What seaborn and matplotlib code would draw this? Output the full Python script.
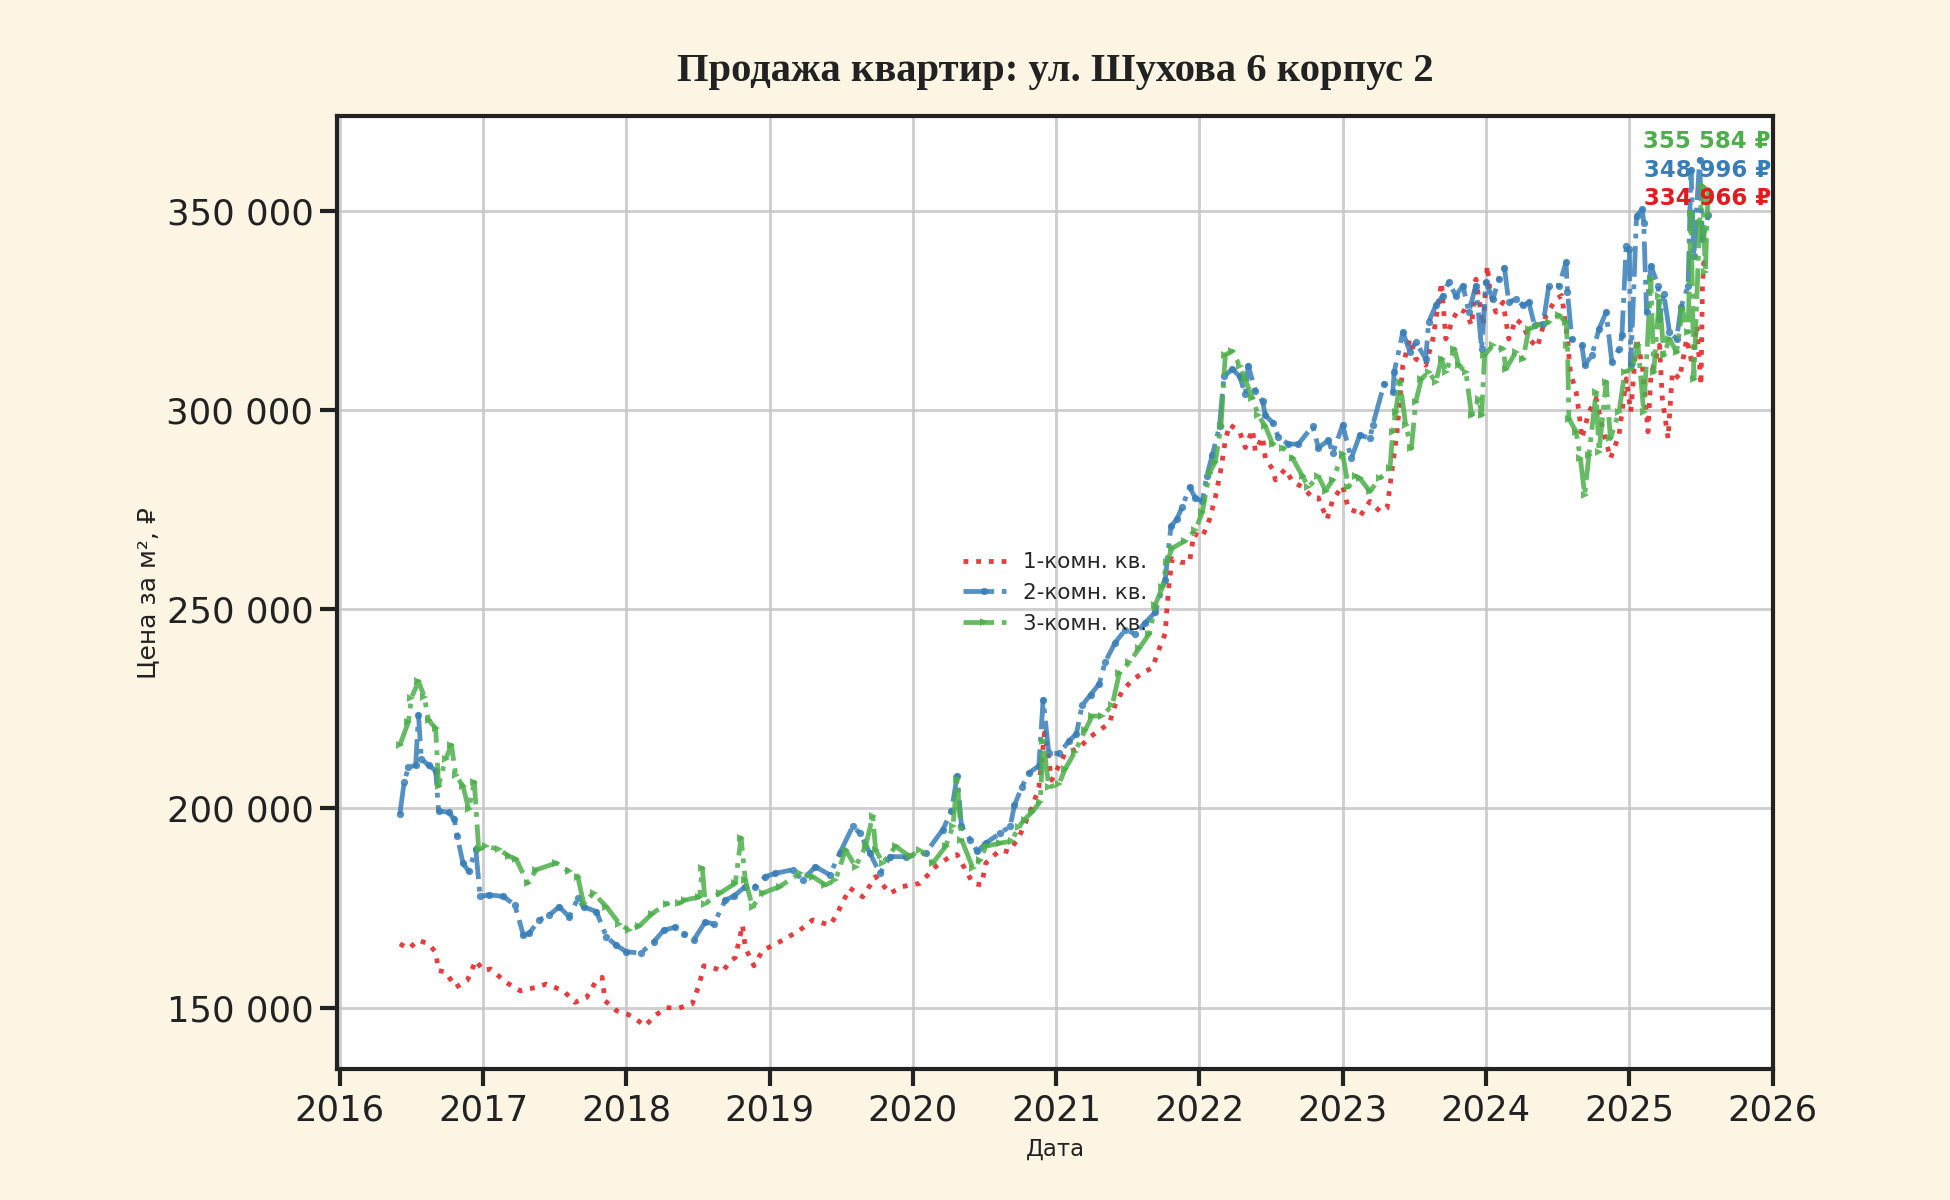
import pandas as pd
import matplotlib
matplotlib.use("Agg")
import matplotlib.pyplot as plt
import matplotlib.ticker as mticker
import seaborn as sns

# Readings from the chart: decimal year -> price per m2 (thousands of rubles)
one_room_t = [2016.42, 2016.48, 2016.55, 2016.62, 2016.67, 2016.69, 2016.74, 2016.81, 2016.89, 2016.95,
              2017.00, 2017.05, 2017.16, 2017.26, 2017.37, 2017.44, 2017.56, 2017.64, 2017.72, 2017.79,
              2017.83, 2017.85, 2017.93, 2018.01, 2018.07, 2018.13, 2018.20, 2018.28, 2018.36, 2018.46,
              2018.51, 2018.54, 2018.63, 2018.67, 2018.72, 2018.76, 2018.81, 2018.83, 2018.89, 2018.95,
              2019.09, 2019.21, 2019.30, 2019.42, 2019.46, 2019.56, 2019.65, 2019.74, 2019.84, 2019.93,
              2020.05, 2020.16, 2020.26, 2020.31, 2020.42, 2020.48, 2020.51, 2020.61, 2020.67, 2020.74,
              2020.83, 2020.88, 2020.92, 2020.97, 2021.06, 2021.16, 2021.23, 2021.30, 2021.37, 2021.41,
              2021.46, 2021.53, 2021.60, 2021.67, 2021.72, 2021.76, 2021.77, 2021.79, 2021.81, 2021.87,
              2021.93, 2021.96, 2022.02, 2022.07, 2022.11, 2022.15, 2022.18, 2022.21, 2022.28, 2022.32,
              2022.37, 2022.39, 2022.44, 2022.46, 2022.51, 2022.53, 2022.60, 2022.65, 2022.72, 2022.79,
              2022.83, 2022.89, 2022.93, 2023.00, 2023.04, 2023.10, 2023.12, 2023.19, 2023.26, 2023.31,
              2023.35, 2023.38, 2023.42, 2023.47, 2023.51, 2023.58, 2023.63, 2023.69, 2023.72, 2023.77,
              2023.81, 2023.86, 2023.90, 2023.93, 2023.98, 2024.01, 2024.03, 2024.07, 2024.12, 2024.16,
              2024.21, 2024.26, 2024.30, 2024.36, 2024.42, 2024.49, 2024.53, 2024.57, 2024.59, 2024.63,
              2024.65, 2024.67, 2024.72, 2024.77, 2024.81, 2024.87, 2024.93, 2024.98, 2025.01, 2025.05,
              2025.09, 2025.13, 2025.15, 2025.21, 2025.23, 2025.27, 2025.30, 2025.35, 2025.40, 2025.44,
              2025.47, 2025.50, 2025.51, 2025.52, 2025.54]
one_room_v = [166.0, 164.8, 166.9, 166.0, 163.9, 159.3, 158.9, 155.1, 156.8, 161.8,
              159.3, 159.7, 156.3, 154.2, 155.1, 155.9, 154.2, 151.3, 152.5, 156.8,
              157.6, 151.7, 149.2, 148.3, 147.0, 145.4, 148.0, 150.0, 149.8, 151.0,
              156.0, 160.5, 159.7, 159.0, 161.4, 162.6, 170.7, 165.0, 160.5, 164.3,
              166.9, 169.4, 172.0, 170.7, 172.8, 180.0, 177.8, 182.9, 178.7, 180.4,
              181.2, 185.4, 187.9, 188.4, 181.2, 180.8, 186.3, 189.6, 189.1, 192.7,
              199.9, 205.3, 219.0, 207.1, 213.8, 215.2, 217.8, 219.6, 221.4, 225.9,
              229.5, 232.2, 234.0, 235.3, 240.3, 243.9, 249.3, 257.4, 262.7, 261.8,
              261.8, 269.0, 268.1, 272.6, 278.0, 285.2, 292.4, 296.4, 294.6, 290.6,
              295.1, 289.7, 293.3, 287.9, 285.2, 282.5, 285.2, 282.0, 280.7, 278.0,
              278.0, 272.6, 277.5, 281.0, 275.3, 274.4, 273.3, 277.1, 274.6, 275.4,
              286.3, 294.6, 311.3, 317.9, 312.9, 311.3, 317.9, 332.1, 317.9, 322.9,
              325.4, 324.6, 321.3, 332.9, 321.3, 336.3, 329.6, 324.6, 327.1, 317.9,
              322.9, 321.3, 317.9, 315.8, 323.8, 327.9, 328.8, 317.9, 309.6, 304.6,
              299.6, 292.9, 299.6, 302.9, 296.3, 287.9, 293.8, 307.9, 299.6, 317.9,
              311.3, 294.6, 308.8, 316.3, 302.9, 292.9, 309.6, 307.9, 317.9, 311.3,
              321.3, 306.3, 331.3, 337.1, 334.966]

two_room_t = [2016.42, 2016.45, 2016.48, 2016.53, 2016.55, 2016.57, 2016.62, 2016.67, 2016.69, 2016.76,
              2016.80, 2016.82, 2016.86, 2016.90, 2016.95, 2016.98, 2017.04, 2017.14, 2017.22, 2017.28,
              2017.32, 2017.39, 2017.46, 2017.53, 2017.60, 2017.66, 2017.70, 2017.79, 2017.86, 2017.93,
              2018.00, 2018.10, 2018.19, 2018.26, 2018.34, 2018.40, 2018.47, 2018.55, 2018.61, 2018.69,
              2018.75, 2018.83, 2018.90, 2018.97, 2019.04, 2019.16, 2019.23, 2019.32, 2019.42, 2019.49,
              2019.58, 2019.63, 2019.70, 2019.77, 2019.84, 2019.95, 2020.09, 2020.21, 2020.27, 2020.31,
              2020.34, 2020.40, 2020.45, 2020.51, 2020.61, 2020.68, 2020.71, 2020.76, 2020.81, 2020.88,
              2020.91, 2020.95, 2021.02, 2021.09, 2021.14, 2021.18, 2021.24, 2021.30, 2021.34, 2021.41,
              2021.48, 2021.55, 2021.62, 2021.69, 2021.76, 2021.80, 2021.84, 2021.88, 2021.93, 2021.97,
              2022.02, 2022.05, 2022.09, 2022.14, 2022.17, 2022.23, 2022.28, 2022.32, 2022.34, 2022.39,
              2022.44, 2022.46, 2022.51, 2022.55, 2022.62, 2022.69, 2022.79, 2022.83, 2022.90, 2022.93,
              2023.00, 2023.06, 2023.12, 2023.19, 2023.21, 2023.29, 2023.35, 2023.36, 2023.42, 2023.47,
              2023.51, 2023.58, 2023.60, 2023.65, 2023.70, 2023.74, 2023.79, 2023.84, 2023.88, 2023.93,
              2023.97, 2024.00, 2024.05, 2024.09, 2024.13, 2024.16, 2024.21, 2024.26, 2024.30, 2024.34,
              2024.40, 2024.44, 2024.51, 2024.56, 2024.57, 2024.60, 2024.67, 2024.69, 2024.74, 2024.79,
              2024.84, 2024.88, 2024.93, 2024.95, 2024.98, 2025.00, 2025.01, 2025.05, 2025.09, 2025.10,
              2025.12, 2025.15, 2025.20, 2025.21, 2025.24, 2025.28, 2025.33, 2025.36, 2025.41, 2025.43,
              2025.45, 2025.49, 2025.51, 2025.55]
two_room_v = [198.6, 206.6, 210.4, 210.8, 223.5, 212.5, 210.8, 209.5, 199.4, 199.0,
              197.3, 193.1, 186.3, 184.2, 189.7, 177.9, 178.3, 177.9, 175.8, 168.2,
              168.6, 172.0, 173.2, 175.3, 172.8, 177.4, 175.3, 174.1, 167.7, 165.6,
              164.0, 163.7, 166.5, 169.4, 170.2, 168.5, 167.0, 171.5, 171.0, 177.0,
              178.0, 180.4, 180.4, 182.9, 183.7, 184.6, 182.0, 185.4, 183.3, 188.8,
              195.5, 193.8, 188.8, 183.7, 187.9, 187.9, 188.8, 194.7, 199.3, 208.2,
              195.5, 192.2, 189.2, 191.3, 193.8, 195.5, 200.8, 205.3, 208.9, 210.7,
              227.3, 213.8, 213.8, 217.0, 218.7, 225.9, 228.6, 231.3, 236.7, 241.6,
              244.8, 243.9, 246.6, 249.3, 257.4, 270.8, 272.6, 275.8, 280.7, 278.0,
              277.1, 283.4, 288.8, 296.0, 308.5, 310.3, 308.5, 304.0, 311.2, 304.9,
              302.2, 298.7, 296.9, 293.3, 291.5, 291.5, 296.0, 290.6, 292.4, 289.2,
              296.3, 287.9, 293.8, 292.9, 296.3, 306.7, 304.6, 309.6, 319.6, 314.6,
              317.1, 312.9, 322.1, 326.3, 328.8, 332.1, 328.8, 331.3, 324.6, 331.3,
              315.4, 332.1, 327.9, 332.9, 335.8, 327.1, 327.9, 326.3, 327.1, 321.3,
              321.7, 331.3, 331.3, 337.1, 329.6, 317.9, 316.3, 311.3, 313.8, 320.4,
              324.6, 312.1, 315.4, 318.8, 341.3, 340.4, 311.3, 348.8, 350.4, 347.1,
              324.6, 336.3, 331.3, 322.9, 329.2, 319.6, 317.9, 325.8, 331.3, 360.4,
              338.8, 362.9, 342.9, 348.996]

three_room_t = [2016.42, 2016.48, 2016.50, 2016.55, 2016.59, 2016.62, 2016.67, 2016.69, 2016.74, 2016.78,
                2016.81, 2016.86, 2016.90, 2016.94, 2016.97, 2017.02, 2017.11, 2017.18, 2017.23, 2017.31,
                2017.37, 2017.51, 2017.60, 2017.66, 2017.70, 2017.77, 2017.86, 2017.95, 2018.02, 2018.09,
                2018.18, 2018.28, 2018.37, 2018.41, 2018.51, 2018.53, 2018.55, 2018.65, 2018.76, 2018.80,
                2018.83, 2018.88, 2018.95, 2019.07, 2019.21, 2019.30, 2019.39, 2019.46, 2019.53, 2019.60,
                2019.67, 2019.72, 2019.74, 2019.79, 2019.88, 2019.98, 2020.05, 2020.14, 2020.23, 2020.28,
                2020.31, 2020.34, 2020.42, 2020.47, 2020.51, 2020.61, 2020.69, 2020.74, 2020.78, 2020.83,
                2020.89, 2020.91, 2020.95, 2021.02, 2021.06, 2021.13, 2021.20, 2021.25, 2021.32, 2021.39,
                2021.44, 2021.51, 2021.58, 2021.65, 2021.69, 2021.74, 2021.77, 2021.81, 2021.90, 2021.97,
                2022.02, 2022.07, 2022.11, 2022.15, 2022.18, 2022.23, 2022.28, 2022.32, 2022.37, 2022.41,
                2022.46, 2022.51, 2022.58, 2022.65, 2022.72, 2022.76, 2022.83, 2022.88, 2022.93, 2023.00,
                2023.04, 2023.09, 2023.12, 2023.19, 2023.26, 2023.33, 2023.35, 2023.37, 2023.40, 2023.44,
                2023.48, 2023.51, 2023.55, 2023.60, 2023.65, 2023.69, 2023.72, 2023.78, 2023.81, 2023.86,
                2023.90, 2023.95, 2023.97, 2023.99, 2024.05, 2024.12, 2024.14, 2024.21, 2024.26, 2024.30,
                2024.37, 2024.44, 2024.51, 2024.56, 2024.57, 2024.58, 2024.63, 2024.66, 2024.69, 2024.72,
                2024.77, 2024.79, 2024.84, 2024.87, 2024.93, 2024.97, 2025.02, 2025.06, 2025.10, 2025.15,
                2025.17, 2025.21, 2025.24, 2025.28, 2025.33, 2025.37, 2025.41, 2025.43, 2025.45, 2025.49,
                2025.51, 2025.53, 2025.55]
three_room_v = [215.9, 221.8, 227.7, 231.9, 228.1, 222.2, 220.1, 205.7, 212.5, 215.9,
                208.3, 205.7, 199.8, 206.6, 189.7, 190.5, 189.7, 188.0, 187.2, 181.3,
                184.6, 186.3, 184.2, 182.9, 176.2, 178.7, 175.3, 171.1, 169.4, 170.5,
                173.6, 176.1, 176.2, 177.0, 177.8, 185.0, 176.1, 178.7, 181.2, 192.6,
                182.0, 175.3, 178.7, 180.4, 183.7, 182.9, 180.8, 182.0, 189.6, 185.4,
                190.5, 198.1, 189.6, 186.3, 190.5, 187.9, 189.6, 186.3, 190.5, 195.5,
                207.3, 192.2, 185.0, 187.1, 190.5, 191.3, 191.8, 195.4, 197.2, 199.0,
                201.7, 216.9, 205.3, 206.2, 209.8, 214.2, 219.6, 223.2, 223.2, 225.9,
                234.0, 236.7, 240.3, 243.9, 251.1, 255.5, 261.8, 265.4, 267.2, 269.9,
                274.4, 284.3, 287.0, 296.0, 313.9, 314.8, 311.2, 307.6, 303.1, 298.7,
                296.0, 291.5, 290.6, 287.9, 283.4, 280.7, 283.4, 279.8, 282.5, 289.0,
                280.7, 283.4, 282.9, 279.6, 282.9, 285.4, 294.6, 299.6, 307.1, 296.3,
                290.4, 302.1, 307.9, 309.6, 307.1, 312.9, 309.6, 315.4, 311.3, 309.6,
                298.8, 302.9, 298.8, 313.8, 316.3, 315.4, 310.4, 314.6, 312.9, 320.4,
                321.3, 322.1, 323.8, 322.1, 316.3, 297.9, 294.6, 287.9, 278.8, 288.8,
                304.6, 289.6, 307.1, 292.9, 299.6, 309.6, 310.4, 316.3, 299.6, 332.9,
                309.6, 328.8, 313.8, 317.9, 314.6, 325.4, 319.6, 349.6, 307.9, 347.1,
                356.3, 334.6, 355.584]

labels = ["1-комн. кв.", "2-комн. кв.", "3-комн. кв."]
colors = ["#e41a1c", "#377eb8", "#4daf4a"]
last_values = [334966, 348996, 355584]


def to_dates(years):
    years = pd.Series(years)
    base = pd.to_datetime(years.astype(int).astype(str) + "-01-01")
    return base + pd.to_timedelta((years - years.astype(int)) * 365.25, unit="D")


sns.set_theme(style="ticks")
plt.rcParams["font.family"] = ["DejaVu Sans"]

fig, ax = plt.subplots(figsize=(13, 8), dpi=150)
fig.patch.set_facecolor("#fcf5e4")
ax.set_facecolor("white")
fig.subplots_adjust(left=0.173, right=0.909, bottom=0.109, top=0.903)

series = [(one_room_t, one_room_v), (two_room_t, two_room_v), (three_room_t, three_room_v)]
styles = [dict(ls=":", marker=None), dict(ls="-.", marker="o"), dict(ls="-.", marker=">")]

for (t, v), lab, col, st in zip(series, labels, colors, styles):
    df = pd.DataFrame({"date": to_dates(t), "price": [x * 1000 for x in v]})
    sns.lineplot(data=df, x="date", y="price", ax=ax, color=col, label=lab,
                 linestyle=st["ls"], marker=st["marker"], markersize=3.5,
                 markeredgewidth=0, linewidth=2.3, alpha=0.85)

ax.set_xlim(pd.Timestamp("2015-12-26"), pd.Timestamp("2026-01-01"))
ax.xaxis.set_major_locator(matplotlib.dates.YearLocator())
ax.xaxis.set_major_formatter(matplotlib.dates.DateFormatter("%Y"))
ax.yaxis.set_major_locator(mticker.MultipleLocator(50000))
ax.yaxis.set_major_formatter(mticker.FuncFormatter(lambda x, p: f"{x:,.0f}".replace(",", " ")))

ax.grid(True, color="#c4c4c4", linewidth=1.4, alpha=0.8)
for s in ax.spines.values():
    s.set_visible(True)
    s.set_linewidth(2.0)
    s.set_color("#222222")
ax.tick_params(axis="both", labelsize=17, length=8, width=2.0, color="#222222",
               labelcolor="#222222", direction="out")

ax.set_xlabel("Дата", fontsize=11, color="#222222", labelpad=5)
ax.set_ylabel("Цена за м², ₽", fontsize=12, color="#222222", labelpad=3)
ax.set_title("Продажа квартир: ул. Шухова 6 корпус 2", fontsize=19.5, fontweight="bold",
             family=["Liberation Serif", "DejaVu Serif"], color="#222222", pad=17)

leg = ax.legend(loc="center", frameon=False, fontsize=10.3)

# last values in the top-right corner
for val, col, yy in zip(last_values[::-1], colors[::-1], [0.974, 0.943, 0.914]):
    ax.text(0.999, yy, f"{val:,.0f} ₽".replace(",", " "), transform=ax.transAxes,
            ha="right", va="center", color=col, fontsize=11, fontweight="bold")

fig.savefig("out.png", dpi=150, facecolor=fig.get_facecolor())
